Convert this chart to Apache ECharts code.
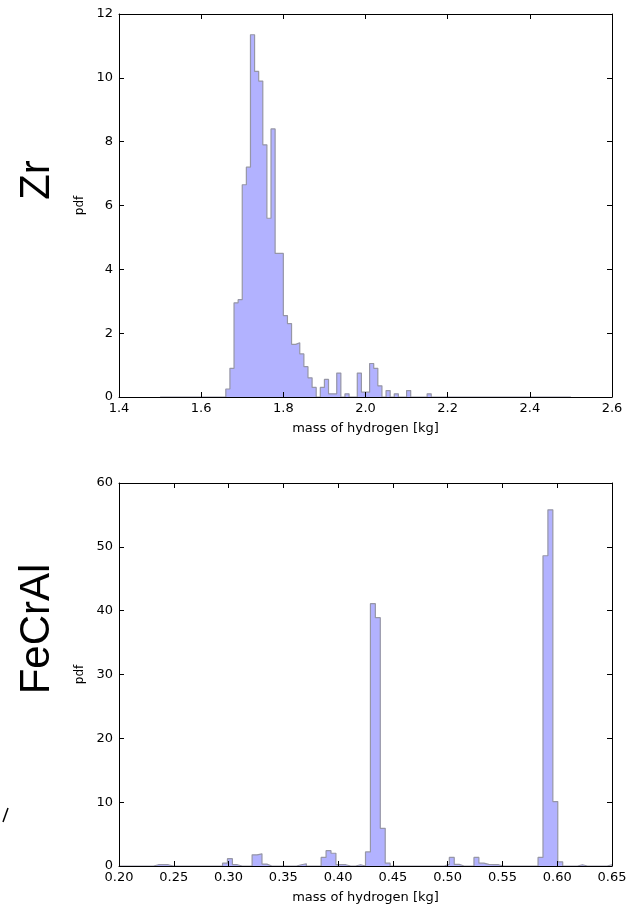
<!DOCTYPE html>
<html>
<head>
<meta charset="utf-8">
<script src="https://cdn.jsdelivr.net/npm/echarts@6/dist/echarts.min.js"></script>
<style>
  html, body { margin: 0; padding: 0; background: #fff; }
  #chart { width: 633px; height: 905px; }
</style>
</head>
<body>
<div id="chart"></div>
<script>
// Zr histogram: 100 bins from 1.5 to 2.5
const zrBinStart = 1.5;
const zrBinWidth = 0.01;
const zrPdf = [
  0, 0, 0, 0, 0, 0, 0, 0, 0, 0,
  0, 0, 0, 0, 0, 0, 0.25, 0.9, 2.95, 3.05,
  6.65, 7.2, 11.35, 10.2, 9.9, 7.9, 5.6, 8.4, 4.5, 4.5,
  2.55, 2.3, 1.65, 1.7, 1.35, 0.95, 0.6, 0.3, 0, 0.3,
  0.55, 0.1, 0.1, 0.75, 0, 0.1, 0, 0, 0.75, 0.15,
  0.15, 1.05, 0.9, 0.35, 0, 0.2, 0, 0.1, 0, 0,
  0.2, 0, 0, 0, 0, 0.1, 0, 0, 0, 0,
  0, 0, 0, 0, 0, 0, 0, 0, 0, 0,
  0, 0, 0, 0, 0, 0, 0, 0, 0, 0,
  0, 0, 0, 0, 0, 0, 0, 0, 0, 0
];

// FeCrAl histogram: 100 bins from 0.20 to 0.65
const fecralBinStart = 0.2;
const fecralBinWidth = 0.0045;
const fecralPdf = [
  0, 0, 0, 0, 0, 0, 0, 0.2, 0.2, 0.2,
  0, 0, 0, 0, 0, 0, 0, 0, 0, 0,
  0, 0.45, 1.15, 0.2, 0, 0, 0, 1.75, 1.9, 0.3,
  0, 0, 0, 0, 0, 0, 0.2, 0.35, 0, 0,
  0, 1.35, 2.4, 2.0, 0.2, 0.2, 0, 0, 0.2, 0,
  2.2, 41.1, 38.9, 5.9, 0.45, 0, 0, 0, 0, 0,
  0, 0, 0, 0, 0, 0, 0.25, 1.35, 0.25, 0,
  0, 0, 1.35, 0.45, 0.25, 0.2, 0.2, 0, 0, 0,
  0, 0, 0, 0, 0, 1.35, 48.6, 55.8, 10.1, 0.65,
  0, 0, 0, 0.2, 0, 0, 0, 0, 0, 0.2
];

const rowLabels = ['Zr', 'FeCrAl'];
const xLabel = 'mass of hydrogen [kg]';
const yLabel = 'pdf';

// step outline points: vertical at each edge, then flat across the bin
function stepPoints(start, width, values) {
  const pts = [[start, 0]];
  values.forEach((v, i) => {
    pts.push([+(start + width * (i + 1)).toFixed(6), v]);
  });
  pts.push([+(start + width * values.length).toFixed(6), 0]);
  return pts;
}

const chart = echarts.init(document.getElementById('chart'), null, { renderer: 'canvas' });

const font = 'DejaVu Sans';
const fill = '#b2b2ff';
const edge = '#9696a6';

function xAxes(gridIndex, min, max, interval, digits) {
  const base = {
    gridIndex: gridIndex,
    type: 'value',
    min: min,
    max: max,
    interval: interval,
    splitLine: { show: false },
    axisLine: { show: true, onZero: false, lineStyle: { color: '#000', width: 1 } },
    axisTick: { show: true, inside: true, length: 5, lineStyle: { color: '#000' } },
    z: 5
  };
  return [
    Object.assign({}, base, {
      position: 'bottom',
      name: xLabel,
      nameLocation: 'middle',
      nameGap: 25,
      nameTextStyle: { fontFamily: font, fontSize: 13, color: '#000' },
      axisLabel: {
        show: true, margin: 5, fontFamily: font, fontSize: 13, color: '#000',
        formatter: v => v.toFixed(digits)
      }
    }),
    Object.assign({}, base, { position: 'top', axisLabel: { show: false } })
  ];
}

function yAxes(gridIndex, max, interval) {
  const base = {
    gridIndex: gridIndex,
    type: 'value',
    min: 0,
    max: max,
    interval: interval,
    splitLine: { show: false },
    axisLine: { show: true, onZero: false, lineStyle: { color: '#000', width: 1 } },
    axisTick: { show: true, inside: true, length: 5, lineStyle: { color: '#000' } },
    z: 5
  };
  return [
    Object.assign({}, base, {
      position: 'left',
      name: yLabel,
      nameLocation: 'middle',
      nameRotate: 90,
      nameGap: 23,
      nameTextStyle: { fontFamily: font, fontSize: 12, color: '#000' },
      axisLabel: { show: true, margin: 6, fontFamily: font, fontSize: 13, color: '#000' }
    }),
    Object.assign({}, base, { position: 'right', axisLabel: { show: false } })
  ];
}

function histSeries(axisIdx, start, width, values) {
  return {
    type: 'line',
    xAxisIndex: axisIdx,
    yAxisIndex: axisIdx,
    step: 'start',
    symbol: 'none',
    silent: true,
    animation: false,
    data: stepPoints(start, width, values),
    lineStyle: { color: edge, width: 1.2 },
    areaStyle: { color: fill, opacity: 1 },
    z: 2
  };
}

const option = {
  animation: false,
  grid: [
    { left: 119, top: 14, width: 493, height: 383 },
    { left: 119, top: 483, width: 493, height: 383 }
  ],
  xAxis: [
    ...xAxes(0, 1.4, 2.6, 0.2, 1),
    ...xAxes(1, 0.2, 0.65, 0.05, 2)
  ],
  yAxis: [
    ...yAxes(0, 12, 2),
    ...yAxes(1, 60, 10)
  ],
  series: [
    histSeries(0, zrBinStart, zrBinWidth, zrPdf),
    histSeries(2, fecralBinStart, fecralBinWidth, fecralPdf)
  ],
  graphic: [
    {
      type: 'text', x: 37, y: 180, rotation: Math.PI / 2,
      style: { text: rowLabels[0], font: '42px "Liberation Sans"', fill: '#000', align: 'center', verticalAlign: 'middle' }
    },
    {
      type: 'text', x: 37, y: 629, rotation: Math.PI / 2,
      style: { text: rowLabels[1], font: '42px "Liberation Sans"', fill: '#000', align: 'center', verticalAlign: 'middle' }
    },
    {
      type: 'line',
      shape: { x1: 3, y1: 822, x2: 8, y2: 808 },
      style: { stroke: '#000', lineWidth: 1.5 }
    }
  ]
};

chart.setOption(option);
</script>
</body>
</html>
